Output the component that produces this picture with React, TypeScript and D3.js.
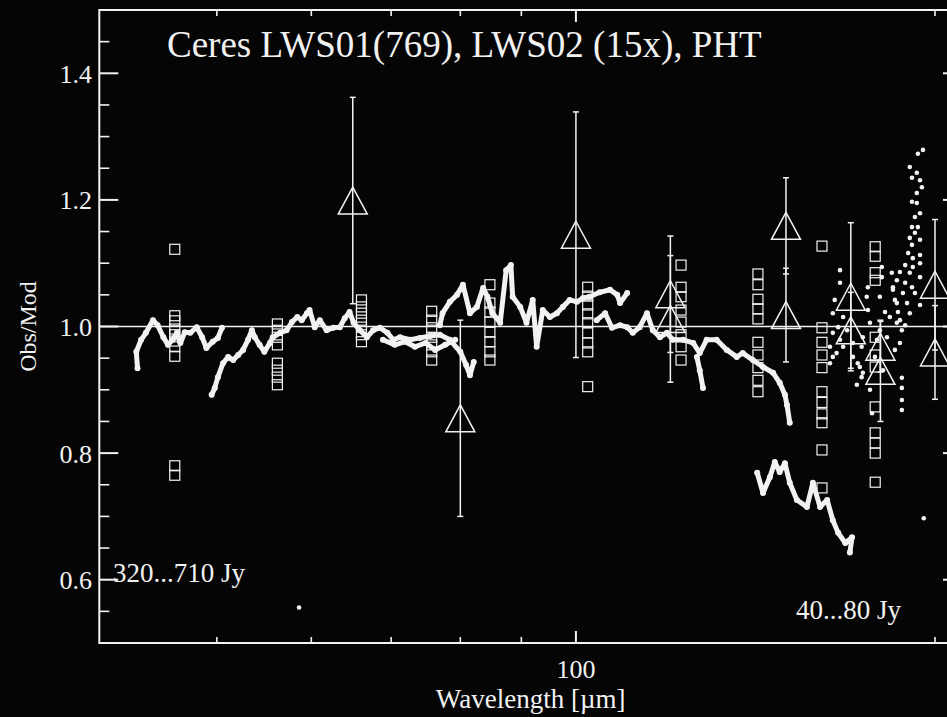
import React from "react";
import * as d3 from "d3";

const W = 947;
const H = 717;

const X_DOMAIN: [number, number] = [39.85, 210.7];
const Y_DOMAIN: [number, number] = [0.5, 1.5];

const yTicksMajor = [0.6, 0.8, 1.0, 1.2, 1.4];
const yTicksMinor = [0.55, 0.65, 0.7, 0.75, 0.85, 0.9, 0.95, 1.05, 1.1, 1.15, 1.25, 1.3, 1.35, 1.45];
const xTicksMajor = [100];
const xTicksMinor = [50, 60, 70, 80, 90, 200];

// LWS01 spectrum, detector segments [wavelength µm, Obs/Mod]
const lwsSegA: [number, number][] = [
  [42.9, 0.934], [42.8, 0.96], [43.2, 0.979], [43.6, 0.99], [44.2, 1.01], [44.6, 1.002], [45.1, 0.983],
  [45.5, 0.971], [45.9, 0.979], [46.3, 0.99], [46.6, 0.974], [47.0, 0.991], [47.5, 0.99], [48.1, 0.999],
  [48.6, 0.983], [49.0, 0.966], [49.6, 0.976], [50.1, 0.982], [50.5, 0.998],
];
const lwsSegB: [number, number][] = [
  [49.5, 0.892], [49.8, 0.903], [50.1, 0.92], [50.6, 0.942], [51.1, 0.952], [51.6, 0.947], [52.1, 0.955],
  [52.6, 0.963], [53.1, 0.979], [53.5, 0.994], [53.8, 0.983], [54.3, 0.971], [54.8, 0.96], [55.4, 0.974],
  [55.7, 0.983], [56.5, 0.99], [57.2, 0.994], [57.8, 1.007], [58.4, 1.015], [58.9, 1.01], [59.5, 1.021],
  [59.8, 1.026], [60.4, 0.999], [61.0, 1.01], [61.8, 0.994], [62.6, 0.998], [63.4, 0.999], [64.0, 1.013],
  [64.6, 1.023], [65.1, 1.006], [65.9, 0.994], [66.8, 0.983], [67.6, 0.994], [68.5, 0.998], [69.5, 0.99],
  [70.3, 0.979], [71.2, 0.983], [72.6, 0.979], [74.0, 0.982], [75.5, 0.985], [76.9, 0.987], [78.4, 0.979],
  [80.0, 0.96], [80.9, 0.939], [81.5, 0.923], [82.1, 0.944],
];
const lwsSegB2: [number, number][] = [
  [68.9, 0.979], [70.5, 0.971], [71.9, 0.976], [73.3, 0.968], [74.8, 0.974], [76.2, 0.963], [77.7, 0.971],
  [79.2, 0.979],
];
const lwsSegC: [number, number][] = [
  [76.9, 1.002], [77.3, 1.021], [78.4, 1.039], [79.5, 1.05], [80.4, 1.066], [81.5, 1.021], [82.6, 1.031],
  [83.6, 1.061], [84.3, 1.047], [85.1, 1.021], [86.4, 1.006], [87.4, 1.089], [88.2, 1.097], [88.5, 1.047],
  [89.8, 1.031], [90.9, 1.006], [92.0, 1.042], [92.7, 0.968], [93.8, 1.026], [95.1, 1.015], [96.4, 1.021],
  [97.5, 1.031], [98.8, 1.042], [100.2, 1.039], [101.4, 1.045], [102.7, 1.047], [104.7, 1.054],
  [106.8, 1.058], [108.3, 1.05], [108.9, 1.037], [110.4, 1.053],
];
const lwsSegD: [number, number][] = [
  [104.1, 1.01], [105.8, 1.021], [107.2, 0.998], [108.9, 1.002], [110.4, 0.999], [111.6, 0.99],
  [113.1, 0.999], [114.7, 1.021], [116.0, 0.994], [117.6, 0.983], [119.2, 0.99], [120.6, 0.979],
  [123.0, 0.979], [125.4, 0.974], [127.0, 0.958], [128.7, 0.979], [131.2, 0.979], [133.8, 0.963],
  [136.4, 0.952], [138.0, 0.958], [140.7, 0.947], [143.5, 0.936], [146.3, 0.927], [148.2, 0.911],
  [149.7, 0.892], [150.3, 0.876], [151.1, 0.848],
];
const lwsSegSpur: [number, number][] = [
  [126.3, 0.952], [127.0, 0.931], [127.8, 0.903],
];
const lwsSegE: [number, number][] = [
  [141.9, 0.769], [143.5, 0.737], [145.4, 0.762], [146.8, 0.786], [148.2, 0.77], [149.7, 0.784],
  [151.1, 0.753], [153.2, 0.726], [156.2, 0.715], [158.0, 0.753], [160.2, 0.715], [162.4, 0.726],
  [164.2, 0.694], [165.9, 0.674], [168.2, 0.658], [170.4, 0.667], [169.7, 0.643],
];
// scattered long-wavelength LWS01 points
const lwsScatter: [number, number][] = [
  [193.5, 1.273], [195.4, 1.279], [190.5, 1.252], [191.3, 1.235], [193.1, 1.243], [194.3, 1.231],
  [195.0, 1.22], [193.1, 1.211], [191.3, 1.197], [193.1, 1.195], [194.3, 1.179], [192.4, 1.173],
  [191.3, 1.157], [193.5, 1.157], [192.4, 1.148], [190.5, 1.14], [194.3, 1.137], [191.3, 1.129],
  [189.9, 1.116], [194.3, 1.113], [191.6, 1.108], [188.8, 1.097], [191.6, 1.094], [194.3, 1.1],
  [186.9, 1.086], [190.5, 1.085], [194.3, 1.078], [185.8, 1.073], [188.8, 1.069], [191.3, 1.062],
  [184.4, 1.058], [188.0, 1.053], [192.4, 1.053], [185.1, 1.042], [189.5, 1.037], [194.3, 1.034],
  [186.2, 1.023], [190.5, 1.021], [186.9, 1.01], [188.8, 1.002],
  [166.5, 1.089], [166.5, 1.069], [164.8, 1.042], [164.2, 1.021], [167.5, 1.015], [165.9, 0.999],
  [168.8, 0.994], [164.2, 0.99], [166.5, 0.979], [163.3, 0.968], [167.5, 0.968], [170.7, 0.974],
  [173.6, 0.968], [164.2, 0.952], [170.7, 0.952], [172.3, 0.942], [173.6, 0.92], [172.0, 0.908],
  [175.3, 1.047], [175.7, 1.026], [176.4, 1.006], [174.0, 0.983], [175.7, 1.062], [180.5, 1.094],
  [180.5, 1.078], [179.8, 1.047], [181.6, 1.023], [184.0, 1.085], [184.4, 1.062], [185.8, 1.037],
  [183.3, 1.015], [185.8, 1.006], [187.6, 0.994], [186.9, 0.974], [185.1, 0.963], [182.3, 0.983],
  [179.8, 0.994], [178.8, 0.979], [178.1, 0.952], [180.9, 0.931], [176.4, 0.9], [177.1, 0.863],
  [187.6, 0.919], [187.6, 0.903], [187.6, 0.884], [187.6, 0.868], [174.0, 0.927], [173.0, 0.936],
  [165.4, 0.958], [163.3, 0.942], [195.7, 0.697], [58.6, 0.556],
];

// LWS02 line-mode measurements (squares)
const lws02Wave = [46.1, 56.2, 66.1, 75.7, 84.7, 102.3, 122.5, 142.1, 160.8, 178.2];
const lws02Ratio: number[][] = [
  [1.122, 1.017, 1.009, 0.996, 0.987, 0.977, 0.968, 0.953, 0.78, 0.765],
  [1.004, 0.994, 0.983, 0.971, 0.942, 0.931, 0.92, 0.908],
  [1.042, 1.031, 1.021, 1.01, 0.999, 0.987, 0.976],
  [1.024, 1.01, 0.998, 0.983, 0.971, 0.96, 0.947],
  [1.066, 1.037, 1.023, 1.007, 0.991, 0.976, 0.96, 0.947],
  [1.062, 1.048, 1.034, 1.02, 1.006, 0.99, 0.974, 0.96, 0.905],
  [1.097, 1.062, 1.047, 1.026, 1.007, 0.987, 0.968, 0.947],
  [1.083, 1.066, 1.043, 1.028, 1.012, 0.975, 0.955, 0.935, 0.915, 0.897],
  [1.127, 0.998, 0.975, 0.955, 0.935, 0.897, 0.88, 0.862, 0.848, 0.805, 0.745],
  [1.126, 1.111, 1.085, 1.073, 0.983, 0.955, 0.936, 0.873, 0.832, 0.816, 0.8, 0.754],
];

// PHT photometry (triangles with error bars)
const phtWave = [65, 80, 100, 120, 120, 150, 150, 170, 170, 180, 180, 200, 200];
const phtRatio = [1.199, 0.855, 1.145, 1.051, 1.012, 1.159, 1.018, 1.047, 0.994, 0.968, 0.93, 1.066, 0.959];
const phtError = [0.163, 0.155, 0.194, 0.092, 0.1, 0.076, 0.074, 0.117, 0.06, 0.04, 0.08, 0.103, 0.074];

const FONT = "'Liberation Serif', 'Times New Roman', serif";

export default function App() {
  const x = d3.scaleLog().domain(X_DOMAIN).range([99.3, 962]);
  const y = d3.scaleLinear().domain(Y_DOMAIN).range([643, 10]);
  const left = 99.3, right = 962, top = 10, bottom = 643;
  const line = d3.line<[number, number]>().x((d) => x(d[0])).y((d) => y(d[1]));
  const segments = [lwsSegA, lwsSegB, lwsSegB2, lwsSegC, lwsSegD, lwsSegSpur, lwsSegE];
  const white = "#f2f2f2";

  return (
    <div style={{ position: "fixed", left: 0, top: 0, width: W, height: H, background: "#000" }}>
      <svg width={W} height={H} style={{ display: "block" }}>
        <rect x={0} y={0} width={W} height={H} fill="#050505" />
        {/* reference line at 1.0 */}
        <line x1={left} x2={right} y1={y(1)} y2={y(1)} stroke={white} strokeWidth={1.5} />
        {/* spectrum */}
        {segments.map((seg, i) => (
          <g key={"s" + i}>
            <path d={line(seg) || ""} fill="none" stroke={white} strokeWidth={5} strokeLinejoin="round" strokeLinecap="round" />
            {seg.map((d, j) => (
              <circle key={j} cx={x(d[0])} cy={y(d[1])} r={3} fill={white} />
            ))}
          </g>
        ))}
        {lwsScatter.map((d, j) => (
          <circle key={"sc" + j} cx={x(d[0])} cy={y(d[1])} r={2.3} fill={white} />
        ))}
        {/* LWS02 squares */}
        {lws02Wave.map((w, i) =>
          lws02Ratio[i].map((r, j) => (
            <rect key={"q" + i + "-" + j} x={x(w) - 5} y={y(r) - 5} width={10} height={10} fill="none" stroke={white} strokeWidth={1.2} />
          ))
        )}
        {/* PHT triangles with error bars */}
        {phtWave.map((w, i) => {
          const cx = x(w);
          const cy = y(phtRatio[i]);
          const yt = y(phtRatio[i] + phtError[i]);
          const yb = y(phtRatio[i] - phtError[i]);
          return (
            <g key={"t" + i} stroke={white} strokeWidth={1.5} fill="none">
              <line x1={cx} x2={cx} y1={yt} y2={yb} />
              <line x1={cx - 3} x2={cx + 3} y1={yt} y2={yt} />
              <line x1={cx - 3} x2={cx + 3} y1={yb} y2={yb} />
              <path d={`M${cx},${cy - 13.5}L${cx - 14.5},${cy + 13.5}L${cx + 14.5},${cy + 13.5}Z`} />
            </g>
          );
        })}
        {/* frame */}
        <rect x={left} y={top} width={right - left} height={bottom - top} fill="none" stroke={white} strokeWidth={2} />
        {/* y ticks */}
        {yTicksMajor.map((t) => (
          <g key={"ym" + t} stroke={white} strokeWidth={2}>
            <line x1={left} x2={left + 19} y1={y(t)} y2={y(t)} />
            <line x1={right} x2={right - 19} y1={y(t)} y2={y(t)} />
          </g>
        ))}
        {yTicksMinor.map((t) => (
          <g key={"yn" + t} stroke={white} strokeWidth={1.6}>
            <line x1={left} x2={left + 10} y1={y(t)} y2={y(t)} />
            <line x1={right} x2={right - 10} y1={y(t)} y2={y(t)} />
          </g>
        ))}
        {/* x ticks */}
        {xTicksMajor.map((t) => (
          <g key={"xm" + t} stroke={white} strokeWidth={2}>
            <line x1={x(t)} x2={x(t)} y1={bottom} y2={bottom - 12} />
            <line x1={x(t)} x2={x(t)} y1={top} y2={top + 12} />
          </g>
        ))}
        {xTicksMinor.map((t) => (
          <g key={"xn" + t} stroke={white} strokeWidth={1.6}>
            <line x1={x(t)} x2={x(t)} y1={bottom} y2={bottom - 6} />
            <line x1={x(t)} x2={x(t)} y1={top} y2={top + 6} />
          </g>
        ))}
        {/* tick labels */}
        {yTicksMajor.map((t) => (
          <text key={"yl" + t} x={92} y={y(t) + 9.5} textAnchor="end" fill={white} fontFamily={FONT} fontSize={26}>
            {t.toFixed(1)}
          </text>
        ))}
        {xTicksMajor.map((t) => (
          <text key={"xl" + t} x={x(t)} y={678} textAnchor="middle" fill={white} fontFamily={FONT} fontSize={26}>
            {t}
          </text>
        ))}
        <text x={(left + right) / 2} y={708} textAnchor="middle" fill={white} fontFamily={FONT} fontSize={27}>
          Wavelength [µm]
        </text>
        <text transform={`translate(36,${(top + bottom) / 2}) rotate(-90)`} textAnchor="middle" fill={white} fontFamily={FONT} fontSize={24}>
          Obs/Mod
        </text>
        <text x={167} y={57} fill={white} fontFamily={FONT} fontSize={37}>
          Ceres LWS01(769), LWS02 (15x), PHT
        </text>
        <text x={113} y={582} fill={white} fontFamily={FONT} fontSize={27}>
          320...710 Jy
        </text>
        <text x={796} y={619} fill={white} fontFamily={FONT} fontSize={27}>
          40...80 Jy
        </text>
      </svg>
    </div>
  );
}
